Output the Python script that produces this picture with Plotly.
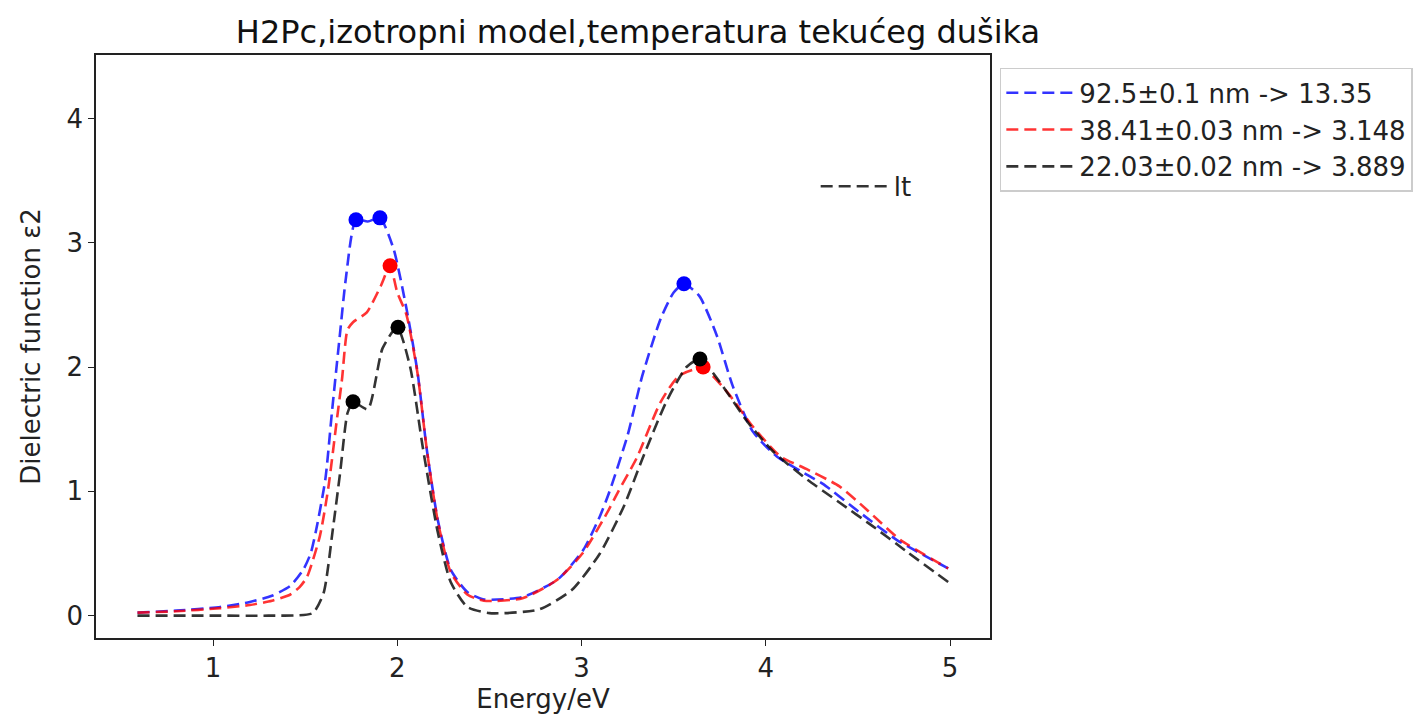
import plotly.graph_objects as go

# ---- data ----
blue_E = [0.59, 0.80, 1.04, 1.20, 1.32, 1.42, 1.49, 1.53, 1.56, 1.61, 1.645, 1.69, 1.72, 1.776,
          1.84, 1.906, 1.98, 2.05, 2.11, 2.16, 2.22, 2.29, 2.38, 2.47, 2.68, 2.87, 3.01, 3.10,
          3.15, 3.25, 3.33, 3.43, 3.50, 3.556, 3.64, 3.735, 3.82, 3.93, 4.06, 4.24, 4.31, 4.51,
          4.71, 4.99]
blue_eps = [0.024, 0.04, 0.07, 0.11, 0.16, 0.24, 0.37, 0.50, 0.69, 1.10, 1.63, 2.28, 2.70, 3.185,
            3.17, 3.20, 2.95, 2.47, 1.96, 1.34, 0.77, 0.37, 0.19, 0.13, 0.15, 0.29, 0.53, 0.80,
            0.99, 1.45, 1.93, 2.39, 2.60, 2.67, 2.57, 2.25, 1.85, 1.48, 1.28, 1.12, 1.06, 0.83,
            0.61, 0.38]

red_E = [0.59, 0.80, 1.04, 1.20, 1.32, 1.42, 1.47, 1.51, 1.58, 1.625, 1.67, 1.70, 1.73, 1.76,
         1.835, 1.91, 1.961, 2.00, 2.05, 2.11, 2.16, 2.22, 2.29, 2.38, 2.47, 2.68, 2.87, 3.01,
         3.14, 3.20, 3.30, 3.43, 3.53, 3.66, 3.79, 3.93, 4.08, 4.22, 4.40, 4.55, 4.73, 4.99]
red_eps = [0.024, 0.035, 0.06, 0.085, 0.12, 0.17, 0.23, 0.31, 0.64, 1.02, 1.55, 1.90, 2.30, 2.36,
           2.44, 2.65, 2.815, 2.60, 2.42, 1.95, 1.34, 0.76, 0.35, 0.17, 0.12, 0.14, 0.29, 0.51,
           0.83, 1.00, 1.27, 1.72, 1.93, 1.99, 1.80, 1.52, 1.28, 1.18, 1.04, 0.85, 0.61, 0.38]

black_E = [0.59, 1.00, 1.30, 1.54, 1.60, 1.65, 1.69, 1.73, 1.76, 1.84, 1.92, 2.00, 2.07, 2.14,
           2.22, 2.29, 2.38, 2.50, 2.77, 2.95, 3.10, 3.23, 3.33, 3.46, 3.57, 3.643, 3.75, 3.90,
           4.04, 4.22, 4.40, 4.58, 4.77, 4.99]
black_eps = [0.0, 0.0, 0.0, 0.02, 0.18, 0.69, 1.15, 1.63, 1.72, 1.66, 2.15, 2.32, 2.00, 1.34,
             0.67, 0.27, 0.07, 0.02, 0.05, 0.21, 0.50, 0.88, 1.26, 1.72, 2.00, 2.065, 1.88, 1.56,
             1.32, 1.10, 0.91, 0.72, 0.51, 0.27]

blue_peak_E = [1.776, 1.906, 3.556]
blue_peak_eps = [3.185, 3.20, 2.67]
red_peak_E = [1.961, 3.66]
red_peak_eps = [2.815, 2.00]
black_peak_E = [1.76, 2.004, 3.643]
black_peak_eps = [1.72, 2.32, 2.065]

labels = ["92.5±0.1 nm -> 13.35", "38.41±0.03 nm -> 3.148", "22.03±0.02 nm -> 3.889"]
title = "H2Pc,izotropni model,temperatura tekućeg dušika"
x_ticks = [1, 2, 3, 4, 5]
y_ticks = [0, 1, 2, 3, 4]

FONT = "DejaVu Sans"
line_cols = ["rgba(0,0,255,0.8)", "rgba(255,0,0,0.8)", "rgba(0,0,0,0.8)"]
mark_cols = ["#0000ff", "#ff0000", "#000000"]
DASH = "12px,6px"
LW = 2.6

fig = go.Figure()
series = [(blue_E, blue_eps), (red_E, red_eps), (black_E, black_eps)]
peaks = [(blue_peak_E, blue_peak_eps), (red_peak_E, red_peak_eps), (black_peak_E, black_peak_eps)]

for (xs, ys), lab, c in zip(series, labels, line_cols):
    fig.add_trace(go.Scatter(x=xs, y=ys, mode="lines", name=lab,
                             line=dict(color=c, width=LW, dash=DASH, shape="spline", smoothing=0.6)))
for (xs, ys), c in zip(peaks, mark_cols):
    fig.add_trace(go.Scatter(x=xs, y=ys, mode="markers", showlegend=False,
                             marker=dict(color=c, size=15)))

# second legend entry "lt"
fig.add_trace(go.Scatter(x=[None], y=[None], mode="lines", name="lt", legend="legend2",
                         line=dict(color=line_cols[2], width=LW, dash=DASH)))

axis_common = dict(showline=True, linecolor="#222", linewidth=1.5, mirror=True,
                   ticks="outside", ticklen=6, tickwidth=1.3, tickcolor="#222",
                   showgrid=False, zeroline=False,
                   tickfont=dict(family=FONT, size=26, color="#222"))

fig.update_layout(
    width=1426, height=723,
    margin=dict(l=96, r=436, t=55, b=85, autoexpand=False),
    paper_bgcolor="white", plot_bgcolor="white",
    title=dict(text=title, x=638 / 1426, xanchor="center", xref="container",
               y=1 - 32 / 723, yanchor="middle", yref="container",
               font=dict(family=FONT, size=32, color="#111")),
    xaxis=dict(range=[0.365, 5.217], tickvals=x_ticks,
               title=dict(text="Energy/eV", font=dict(family=FONT, size=26, color="#222"), standoff=8),
               **axis_common),
    yaxis=dict(range=[-0.18, 4.51], tickvals=y_ticks,
               title=dict(text="Dielectric function ε2", font=dict(family=FONT, size=26, color="#222"), standoff=18),
               **axis_common),
    legend=dict(x=1.011, y=0.978, xanchor="left", yanchor="top", xref="paper", yref="paper",
                bgcolor="white", bordercolor="#cccccc", borderwidth=1.5,
                font=dict(family=FONT, size=26, color="#222"), itemwidth=68),
    legend2=dict(x=0.805, y=0.815, xanchor="left", yanchor="top", xref="paper", yref="paper",
                 bgcolor="rgba(0,0,0,0)", borderwidth=0,
                 font=dict(family=FONT, size=26, color="#222"), itemwidth=68),
)

fig.write_html("out.html")
